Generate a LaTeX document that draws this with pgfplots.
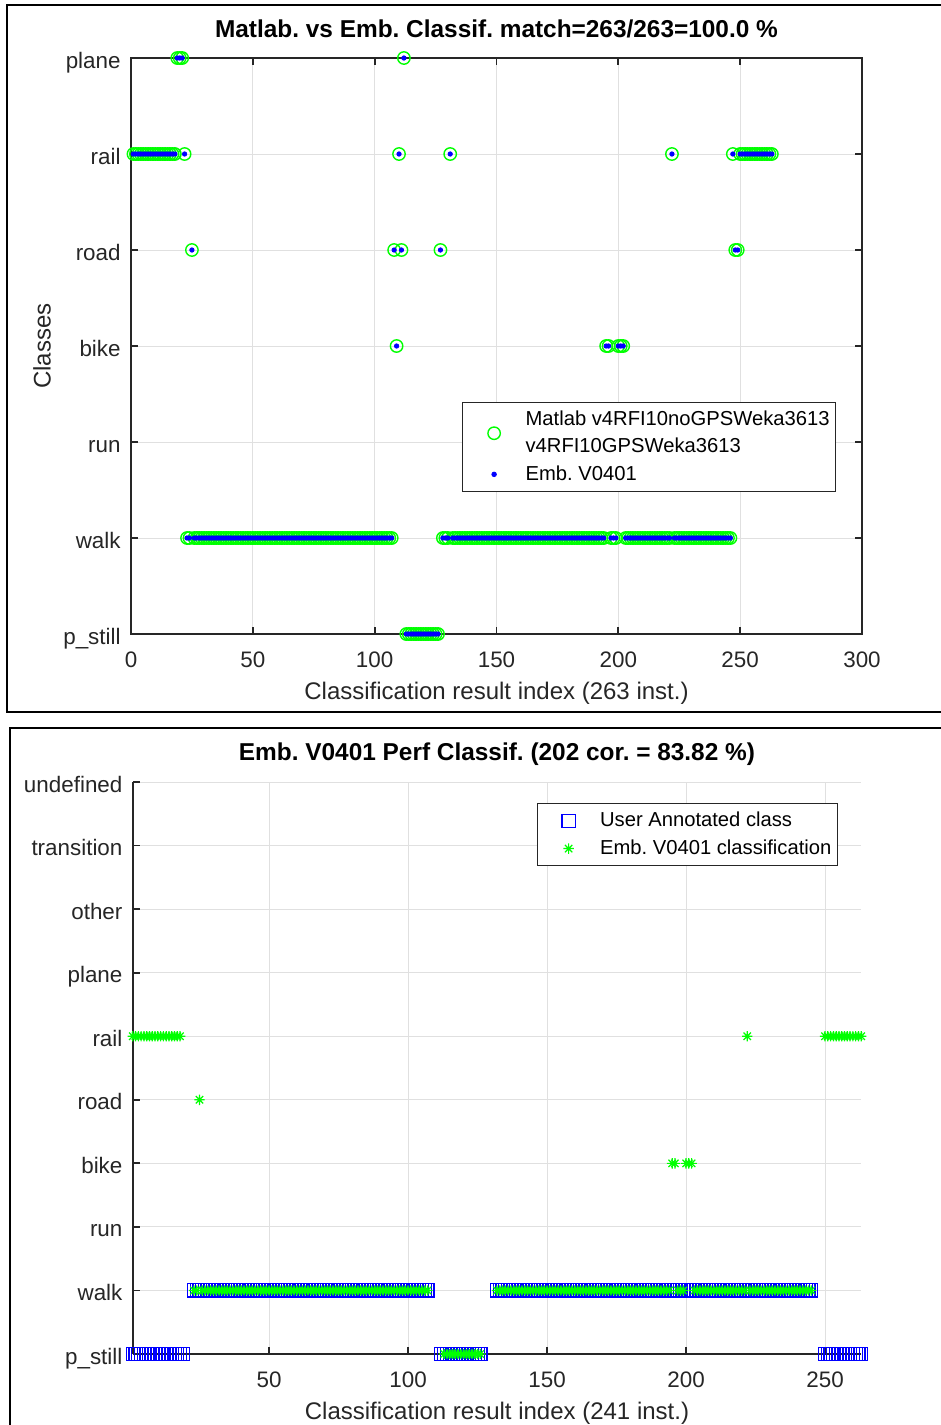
\documentclass[border=0pt]{standalone}
\usepackage{fontspec}
\setmainfont{Liberation Sans}
\usepackage{pgfplots}
\usepackage{pgfplotstable}
\pgfplotsset{compat=1.18}
\frenchspacing
\definecolor{mblue}{rgb}{0,0,1}
\definecolor{mgreen}{rgb}{0,1,0}
\definecolor{axc}{gray}{0.15}
\definecolor{gridc}{gray}{0.88}

\pgfdeclareplotmark{mstar}{%
  \pgfpathmoveto{\pgfpoint{-\pgfplotmarksize}{0pt}}\pgfpathlineto{\pgfpoint{\pgfplotmarksize}{0pt}}%
  \pgfpathmoveto{\pgfpoint{0pt}{-\pgfplotmarksize}}\pgfpathlineto{\pgfpoint{0pt}{\pgfplotmarksize}}%
  \pgfpathmoveto{\pgfpoint{-0.707\pgfplotmarksize}{-0.707\pgfplotmarksize}}\pgfpathlineto{\pgfpoint{0.707\pgfplotmarksize}{0.707\pgfplotmarksize}}%
  \pgfpathmoveto{\pgfpoint{-0.707\pgfplotmarksize}{0.707\pgfplotmarksize}}\pgfpathlineto{\pgfpoint{0.707\pgfplotmarksize}{-0.707\pgfplotmarksize}}%
  \pgfusepathqstroke}

% index / class (1=p_still,2=walk,3=run,4=bike,5=road,6=rail,7=plane)
\pgfplotstableread[row sep=\\]{
x y\\
1 6\\2 6\\3 6\\4 6\\5 6\\6 6\\7 6\\8 6\\9 6\\10 6\\11 6\\12 6\\13 6\\14 6\\15 6\\16 6\\17 6\\18 6\\
19 7\\20 7\\21 7\\22 6\\23 2\\24 2\\25 5\\
26 2\\27 2\\28 2\\29 2\\30 2\\31 2\\32 2\\33 2\\34 2\\35 2\\36 2\\37 2\\38 2\\39 2\\40 2\\41 2\\42 2\\43 2\\44 2\\45 2\\
46 2\\47 2\\48 2\\49 2\\50 2\\51 2\\52 2\\53 2\\54 2\\55 2\\56 2\\57 2\\58 2\\59 2\\60 2\\61 2\\62 2\\63 2\\64 2\\65 2\\
66 2\\67 2\\68 2\\69 2\\70 2\\71 2\\72 2\\73 2\\74 2\\75 2\\76 2\\77 2\\78 2\\79 2\\80 2\\81 2\\82 2\\83 2\\84 2\\85 2\\
86 2\\87 2\\88 2\\89 2\\90 2\\91 2\\92 2\\93 2\\94 2\\95 2\\96 2\\97 2\\98 2\\99 2\\100 2\\101 2\\102 2\\103 2\\104 2\\105 2\\
106 2\\107 2\\108 5\\109 4\\110 6\\111 5\\112 7\\
113 1\\114 1\\115 1\\116 1\\117 1\\118 1\\119 1\\120 1\\121 1\\122 1\\123 1\\124 1\\125 1\\126 1\\
127 5\\128 2\\129 2\\130 2\\131 6\\
132 2\\133 2\\134 2\\135 2\\136 2\\137 2\\138 2\\139 2\\140 2\\141 2\\142 2\\143 2\\144 2\\145 2\\146 2\\147 2\\148 2\\149 2\\150 2\\151 2\\
152 2\\153 2\\154 2\\155 2\\156 2\\157 2\\158 2\\159 2\\160 2\\161 2\\162 2\\163 2\\164 2\\165 2\\166 2\\167 2\\168 2\\169 2\\170 2\\171 2\\
172 2\\173 2\\174 2\\175 2\\176 2\\177 2\\178 2\\179 2\\180 2\\181 2\\182 2\\183 2\\184 2\\185 2\\186 2\\187 2\\188 2\\189 2\\190 2\\191 2\\
192 2\\193 2\\194 2\\195 4\\196 4\\197 2\\198 2\\199 2\\200 4\\201 4\\202 4\\
203 2\\204 2\\205 2\\206 2\\207 2\\208 2\\209 2\\210 2\\211 2\\212 2\\213 2\\214 2\\215 2\\216 2\\217 2\\218 2\\219 2\\220 2\\221 2\\
222 6\\
223 2\\224 2\\225 2\\226 2\\227 2\\228 2\\229 2\\230 2\\231 2\\232 2\\233 2\\234 2\\235 2\\236 2\\237 2\\238 2\\239 2\\240 2\\241 2\\
242 2\\243 2\\244 2\\245 2\\246 2\\
247 6\\248 5\\249 5\\
250 6\\251 6\\252 6\\253 6\\254 6\\255 6\\256 6\\257 6\\258 6\\259 6\\260 6\\261 6\\262 6\\263 6\\
}\topdata

% user annotated class (bottom chart)
\pgfplotstableread[row sep=\\]{
x y\\
1 1\\2 1\\3 1\\4 1\\5 1\\6 1\\7 1\\8 1\\9 1\\10 1\\11 1\\12 1\\13 1\\14 1\\15 1\\16 1\\17 1\\18 1\\19 1\\
23 2\\24 2\\25 2\\
26 2\\27 2\\28 2\\29 2\\30 2\\31 2\\32 2\\33 2\\34 2\\35 2\\36 2\\37 2\\38 2\\39 2\\40 2\\41 2\\42 2\\43 2\\44 2\\45 2\\
46 2\\47 2\\48 2\\49 2\\50 2\\51 2\\52 2\\53 2\\54 2\\55 2\\56 2\\57 2\\58 2\\59 2\\60 2\\61 2\\62 2\\63 2\\64 2\\65 2\\
66 2\\67 2\\68 2\\69 2\\70 2\\71 2\\72 2\\73 2\\74 2\\75 2\\76 2\\77 2\\78 2\\79 2\\80 2\\81 2\\82 2\\83 2\\84 2\\85 2\\
86 2\\87 2\\88 2\\89 2\\90 2\\91 2\\92 2\\93 2\\94 2\\95 2\\96 2\\97 2\\98 2\\99 2\\100 2\\101 2\\102 2\\103 2\\104 2\\105 2\\
106 2\\107 2\\
112 1\\113 1\\114 1\\115 1\\116 1\\117 1\\118 1\\119 1\\120 1\\121 1\\122 1\\123 1\\124 1\\125 1\\126 1\\
132 2\\133 2\\134 2\\135 2\\136 2\\137 2\\138 2\\139 2\\140 2\\141 2\\142 2\\143 2\\144 2\\145 2\\146 2\\147 2\\148 2\\149 2\\150 2\\151 2\\
152 2\\153 2\\154 2\\155 2\\156 2\\157 2\\158 2\\159 2\\160 2\\161 2\\162 2\\163 2\\164 2\\165 2\\166 2\\167 2\\168 2\\169 2\\170 2\\171 2\\
172 2\\173 2\\174 2\\175 2\\176 2\\177 2\\178 2\\179 2\\180 2\\181 2\\182 2\\183 2\\184 2\\185 2\\186 2\\187 2\\188 2\\189 2\\190 2\\191 2\\
192 2\\193 2\\194 2\\195 2\\196 2\\197 2\\198 2\\199 2\\200 2\\201 2\\202 2\\
203 2\\204 2\\205 2\\206 2\\207 2\\208 2\\209 2\\210 2\\211 2\\212 2\\213 2\\214 2\\215 2\\216 2\\217 2\\218 2\\219 2\\220 2\\221 2\\
222 2\\
223 2\\224 2\\225 2\\226 2\\227 2\\228 2\\229 2\\230 2\\231 2\\232 2\\233 2\\234 2\\235 2\\236 2\\237 2\\238 2\\239 2\\240 2\\241 2\\
242 2\\243 2\\244 2\\245 2\\
250 1\\251 1\\252 1\\253 1\\254 1\\255 1\\256 1\\257 1\\258 1\\259 1\\260 1\\261 1\\262 1\\263 1\\
}\annot

% Emb. V0401 classification (bottom chart)
\pgfplotstableread[row sep=\\]{
x y\\
1 6\\2 6\\3 6\\4 6\\5 6\\6 6\\7 6\\8 6\\9 6\\10 6\\11 6\\12 6\\13 6\\14 6\\15 6\\16 6\\17 6\\18 6\\
23 2\\24 2\\25 5\\
26 2\\27 2\\28 2\\29 2\\30 2\\31 2\\32 2\\33 2\\34 2\\35 2\\36 2\\37 2\\38 2\\39 2\\40 2\\41 2\\42 2\\43 2\\44 2\\45 2\\
46 2\\47 2\\48 2\\49 2\\50 2\\51 2\\52 2\\53 2\\54 2\\55 2\\56 2\\57 2\\58 2\\59 2\\60 2\\61 2\\62 2\\63 2\\64 2\\65 2\\
66 2\\67 2\\68 2\\69 2\\70 2\\71 2\\72 2\\73 2\\74 2\\75 2\\76 2\\77 2\\78 2\\79 2\\80 2\\81 2\\82 2\\83 2\\84 2\\85 2\\
86 2\\87 2\\88 2\\89 2\\90 2\\91 2\\92 2\\93 2\\94 2\\95 2\\96 2\\97 2\\98 2\\99 2\\100 2\\101 2\\102 2\\103 2\\104 2\\105 2\\
106 2\\107 2\\
113 1\\114 1\\115 1\\116 1\\117 1\\118 1\\119 1\\120 1\\121 1\\122 1\\123 1\\124 1\\125 1\\126 1\\
132 2\\133 2\\134 2\\135 2\\136 2\\137 2\\138 2\\139 2\\140 2\\141 2\\142 2\\143 2\\144 2\\145 2\\146 2\\147 2\\148 2\\149 2\\150 2\\151 2\\
152 2\\153 2\\154 2\\155 2\\156 2\\157 2\\158 2\\159 2\\160 2\\161 2\\162 2\\163 2\\164 2\\165 2\\166 2\\167 2\\168 2\\169 2\\170 2\\171 2\\
172 2\\173 2\\174 2\\175 2\\176 2\\177 2\\178 2\\179 2\\180 2\\181 2\\182 2\\183 2\\184 2\\185 2\\186 2\\187 2\\188 2\\189 2\\190 2\\191 2\\
192 2\\193 2\\194 2\\195 4\\196 4\\197 2\\198 2\\199 2\\200 4\\201 4\\202 4\\
203 2\\204 2\\205 2\\206 2\\207 2\\208 2\\209 2\\210 2\\211 2\\212 2\\213 2\\214 2\\215 2\\216 2\\217 2\\218 2\\219 2\\220 2\\221 2\\
222 6\\
223 2\\224 2\\225 2\\226 2\\227 2\\228 2\\229 2\\230 2\\231 2\\232 2\\233 2\\234 2\\235 2\\236 2\\237 2\\238 2\\239 2\\240 2\\241 2\\
242 2\\243 2\\244 2\\245 2\\
250 6\\251 6\\252 6\\253 6\\254 6\\255 6\\256 6\\257 6\\258 6\\259 6\\260 6\\261 6\\262 6\\263 6\\
}\emb

\pgfplotsset{
  limg/.style={legend image code/.code={\path (-14.5pt,0pt) (13.5pt,0pt); \draw[##1] plot coordinates {(0pt,0pt)};}},
  mstyle/.style={
    scale only axis,
    clip=false,
    /pgf/number format/assume math mode=true,
    axis line style={axc, line width=0.9pt},
    tick style={axc, line width=0.9pt},
    major tick length=3.6pt,
    tick align=inside,
    grid=major,
    major grid style={gridc, line width=0.5pt},
    tick label style={font=\fontsize{11.2}{13.5}\selectfont, text=axc},
    xticklabel style={anchor=base, yshift=-16.8pt, inner sep=0pt},
    yticklabel style={anchor=base east, xshift=-5pt, yshift=-5pt, inner sep=0pt},
    label style={font=\fontsize{12}{14}\selectfont, text=axc},
    xlabel style={at={(axis description cs:0.5,0)}, anchor=base, yshift=-32.8pt, inner sep=0pt},
    title style={font=\bfseries\fontsize{12.2}{14}\selectfont, at={(axis description cs:0.5,1)}, anchor=base, inner sep=0pt},
    legend style={draw=axc, line width=0.5pt, font=\fontsize{10.1}{13.5}\selectfont, inner xsep=1pt, inner ysep=2.2pt, row sep=1pt, cells={align=left}, text=black},
    legend cell align=left,
  }
}

\begin{document}
\begin{tikzpicture}
\useasboundingbox (0,0) rectangle (470.5pt,-712.5pt);
\draw[line width=1pt, black] (3.5pt,-2.5pt) rectangle (472pt,-356pt);
\draw[line width=1pt, black] (5pt,-364pt) rectangle (472pt,-716pt);

\begin{axis}[mstyle,
  at={(65.5pt,-317pt)}, anchor=south west,
  width=365.5pt, height=288pt,
  xmin=0, xmax=300, ymin=1, ymax=7,
  xtick={0,50,100,150,200,250,300},
  ytick={1,2,3,4,5,6,7},
  yticklabels={p\_still,walk,run,bike,road,rail,plane},
  title={Matlab. vs Emb. Classif. match=263/263=100.0 \%},
  title style={yshift=4.1pt},
  xlabel={Classification result index (263 inst.)},
  ylabel={Classes},
  ylabel style={at={(axis description cs:-0.1218,0.5)}, anchor=center},
  legend style={at={(0.9645,0.4028)}, anchor=north east},
]
\addplot[only marks, mark=o, mark size=3.1pt, mgreen, mark options={line width=0.7pt}, limg] table[x=x,y=y]{\topdata};
\addlegendentry{Matlab v4RFI10noGPSWeka3613\\v4RFI10GPSWeka3613}
\addplot[only marks, mark=*, mark size=1.1pt, mblue, limg] table[x=x,y=y]{\topdata};
\addlegendentry{Emb. V0401}
\end{axis}

\begin{axis}[mstyle,
  at={(66.4pt,-677pt)}, anchor=south west,
  width=364.2pt, height=286pt,
  xmin=1, xmax=263, ymin=1, ymax=10,
  axis x line*=bottom, axis y line*=left,
  xtick={50,100,150,200,250},
  ytick={1,2,3,4,5,6,7,8,9,10},
  yticklabels={p\_still,walk,run,bike,road,rail,plane,other,transition,undefined},
  title={Emb. V0401 Perf Classif. (202 cor. = 83.82 \%)},
  title style={yshift=4.6pt},
  xlabel={Classification result index (241 inst.)},
  legend style={at={(0.968,0.963)}, anchor=north east},
]
\addplot[only marks, mark=square, mark size=3.3pt, mblue, mark options={line width=0.6pt}, limg] table[x=x,y=y]{\annot};
\addlegendentry{User Annotated class}
\addplot[only marks, mark=mstar, mark size=2.6pt, mgreen, mark options={line width=0.6pt}, limg] table[x=x,y=y]{\emb};
\addlegendentry{Emb. V0401 classification}
\end{axis}
\end{tikzpicture}
\end{document}
